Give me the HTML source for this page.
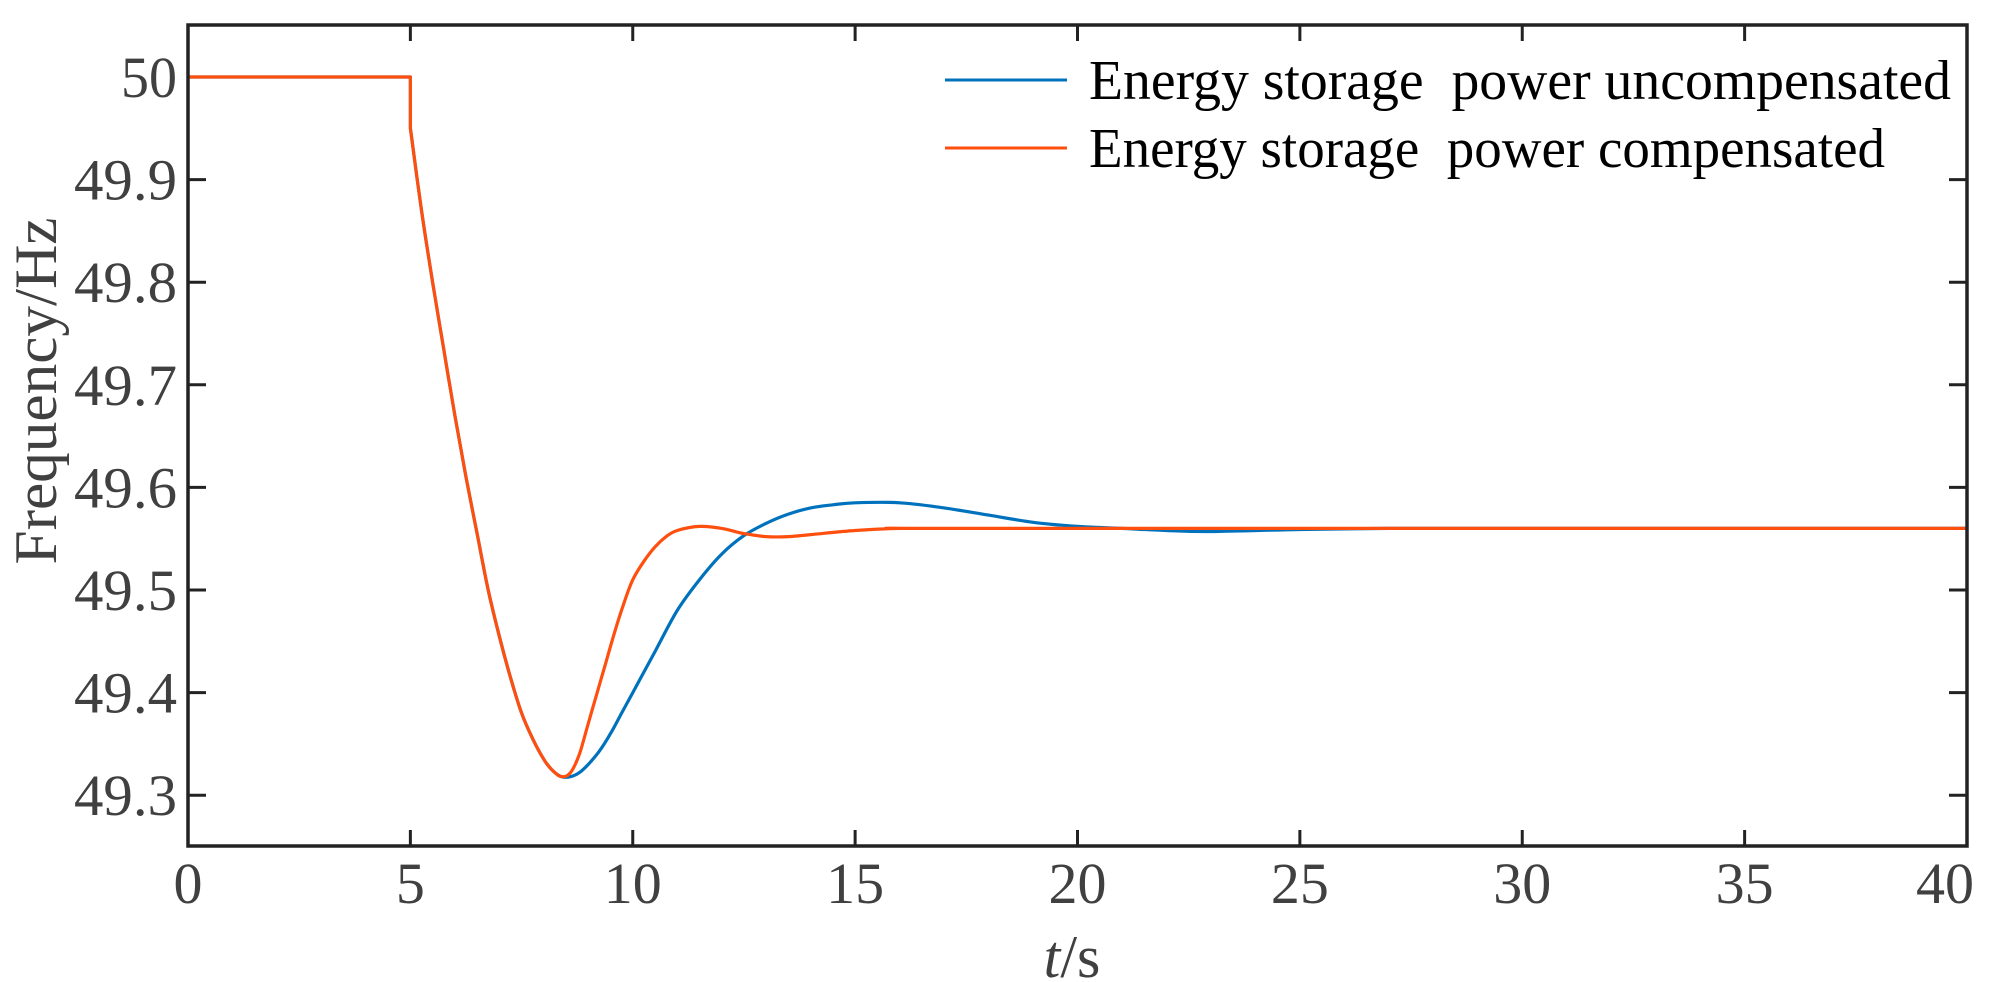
<!DOCTYPE html>
<html><head><meta charset="utf-8"><style>
html,body{margin:0;padding:0;background:#fff;}
svg{display:block}
text{font-family:"Liberation Serif",serif;}
</style></head><body>
<svg id="s" width="1993" height="982" xmlns="http://www.w3.org/2000/svg">
<g id="ticks" stroke="#222" stroke-width="3"></g>
<path id="blue" fill="none" stroke="#0072BD" stroke-width="3.2" stroke-linejoin="round"/>
<path id="orange" fill="none" stroke="#FF4F0F" stroke-width="3.2" stroke-linejoin="round"/>
<rect x="188" y="25" width="1779" height="821" fill="none" stroke="#222" stroke-width="3.5"/>
<g id="labels" fill="#404040" font-size="58"></g>
<line x1="945" y1="80" x2="1067" y2="80" stroke="#0072BD" stroke-width="3"/>
<line x1="945" y1="148" x2="1067" y2="148" stroke="#FF4F0F" stroke-width="3"/>
<text x="1089" y="99" font-size="56" fill="#000" textLength="862" lengthAdjust="spacingAndGlyphs" xml:space="preserve">Energy storage  power uncompensated</text>
<text x="1089" y="167" font-size="56" fill="#000" textLength="796" lengthAdjust="spacingAndGlyphs" xml:space="preserve">Energy storage  power compensated</text>
<text transform="translate(56,391) rotate(-90)" text-anchor="middle" font-size="60" fill="#404040" textLength="347" lengthAdjust="spacingAndGlyphs">Frequency/Hz</text>
<text x="1072" y="977" text-anchor="middle" font-size="60" fill="#404040"><tspan font-style="italic">t</tspan>/s</text>
</svg>
<script>
var X=function(t){return 188+t*44.475;},Y=function(f){return 77+(50-f)*1026;};
var ns="http://www.w3.org/2000/svg";
var tk=document.getElementById('ticks'),lb=document.getElementById('labels');
function el(p,tag,a,txt){var e=document.createElementNS(ns,tag);for(var k in a)e.setAttribute(k,a[k]);if(txt)e.textContent=txt;p.appendChild(e);}
for(var t=0;t<=40;t+=5){var x=X(t);
 if(t>0&&t<40){el(tk,'line',{x1:x,y1:846,x2:x,y2:830});el(tk,'line',{x1:x,y1:25,x2:x,y2:41});}
 var a={x:x,y:903,'text-anchor':'middle',textLength:(t<10?29:58),lengthAdjust:'spacingAndGlyphs'};
 if(t==40){a.x=1974;a['text-anchor']='end';}
 el(lb,'text',a,String(t));}
var yl=['50','49.9','49.8','49.7','49.6','49.5','49.4','49.3'];
for(var i=0;i<8;i++){var y=Y(50-i*0.1);
 if(i>0){el(tk,'line',{x1:188,y1:y,x2:206,y2:y});el(tk,'line',{x1:1967,y1:y,x2:1949,y2:y});}
 el(lb,'text',{x:177,y:y+20,'text-anchor':'end',textLength:(i==0?56:103),lengthAdjust:'spacingAndGlyphs'},yl[i]);}
var drop=[[5,49.95],[5.25,49.87],[5.5,49.80],[5.75,49.735],[6,49.67],[6.25,49.61],[6.5,49.555],[6.75,49.50],[7,49.455],[7.25,49.415],[7.5,49.38],[7.75,49.355],[8,49.335],[8.2,49.324],[8.4,49.318]];
var o=drop.concat([[8.6,49.322],[8.8,49.34],[9,49.37],[9.2,49.40],[9.4,49.43],[9.6,49.46],[9.8,49.487],[10,49.51],[10.25,49.528],[10.5,49.542],[10.75,49.552],[11,49.558],[11.5,49.562],[12,49.56],[12.5,49.555],[13,49.552],[13.5,49.552],[14,49.554],[15,49.558],[16,49.56],[18,49.56],[40,49.56]]);
var b=drop.concat([[8.6,49.318],[8.8,49.322],[9,49.33],[9.25,49.343],[9.5,49.36],[9.75,49.38],[10,49.40],[10.5,49.44],[11,49.48],[11.5,49.51],[12,49.535],[12.5,49.553],[13,49.565],[13.5,49.574],[14,49.58],[14.5,49.583],[15,49.585],[16,49.585],[17,49.58],[18,49.573],[19,49.566],[20,49.562],[21,49.56],[22,49.558],[23,49.557],[25,49.559],[27,49.56],[29,49.56],[40,49.56]]);
function path(a){
 var P=a.map(function(p){return [X(p[0]),Y(p[1])];});
 var d='M'+X(0)+','+Y(50)+' L'+X(5)+','+Y(50)+' L'+P[0][0].toFixed(1)+','+P[0][1].toFixed(1);
 for(var i=0;i<P.length-1;i++){
  var p0=P[i-1]||P[i],p1=P[i],p2=P[i+1],p3=P[i+2]||P[i+1];
  var c1=[p1[0]+(p2[0]-p0[0])/6,p1[1]+(p2[1]-p0[1])/6],c2=[p2[0]-(p3[0]-p1[0])/6,p2[1]-(p3[1]-p1[1])/6];
  d+=' C'+c1[0].toFixed(1)+','+c1[1].toFixed(1)+' '+c2[0].toFixed(1)+','+c2[1].toFixed(1)+' '+p2[0].toFixed(1)+','+p2[1].toFixed(1);}
 return d;}
document.getElementById('blue').setAttribute('d',path(b));
document.getElementById('orange').setAttribute('d',path(o));
</script>
</body></html>
